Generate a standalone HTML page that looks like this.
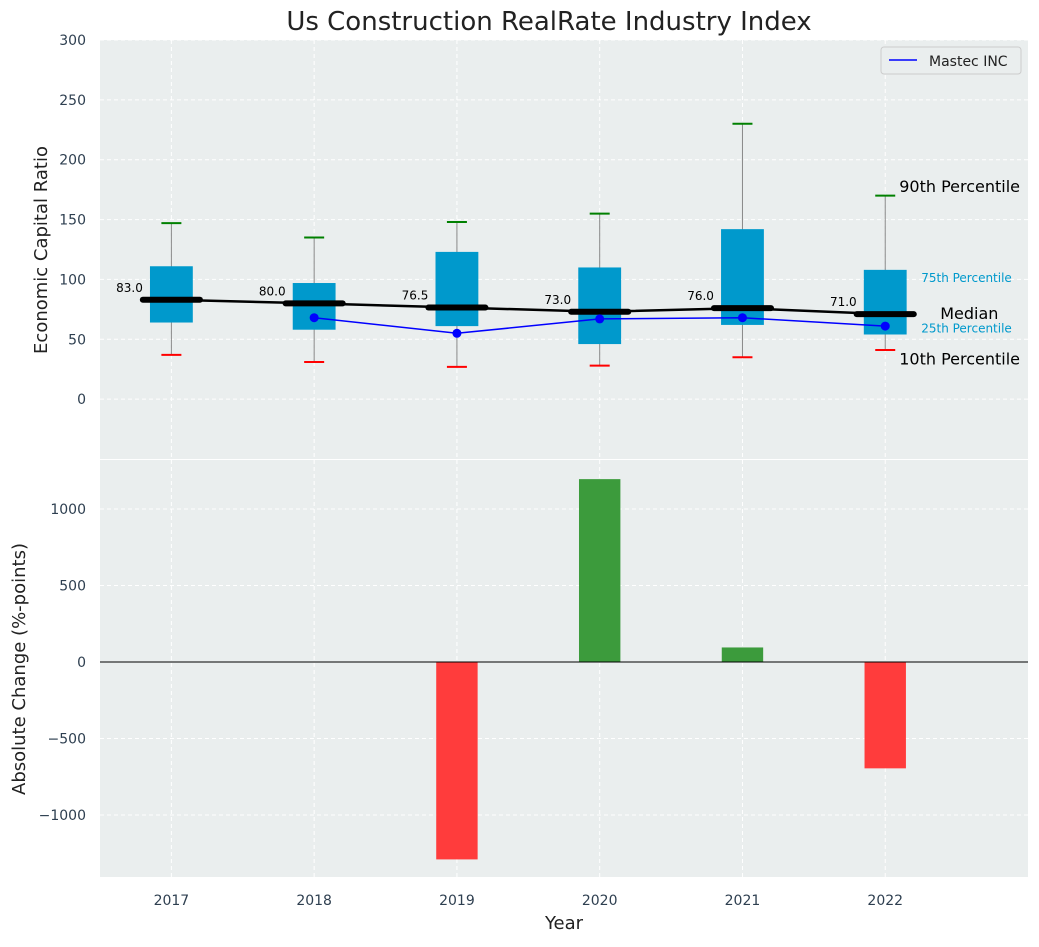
<!DOCTYPE html>
<html><head><meta charset="utf-8"><style>
body{margin:0;background:#fff;font-family:"Liberation Sans","DejaVu Sans",sans-serif}
svg text{font-family:"DejaVu Sans","Liberation Sans",sans-serif}
</style></head><body>
<svg id="c" width="1039" height="942" xmlns="http://www.w3.org/2000/svg"></svg>
<script>
const years=[2017,2018,2019,2020,2021,2022];
const p10=[37,31,27,28,35,41];
const q1=[64,58,61,46,62,54];
const medians=[83.0,80.0,76.5,73.0,76.0,71.0];
const q3=[111,97,123,110,142,108];
const p90=[147,135,148,155,230,170];
const mastecYears=[2018,2019,2020,2021,2022];
const mastec=[68,55,67,68,61];
const changeYears=[2017,2018,2019,2020,2021,2022];
const changes=[0,0,-1290,1195,95,-695];
const yTicksTop=[0,50,100,150,200,250,300];
const yTicksBot=[-1000,-500,0,500,1000];

const svg=document.getElementById('c');
const NS='http://www.w3.org/2000/svg';
function el(t,a,txt){const e=document.createElementNS(NS,t);for(const k in a)e.setAttribute(k,a[k]);if(txt!==undefined)e.textContent=txt;svg.appendChild(e);return e;}
const X0=100,X1=1028;
const x=v=>X0+(v-2016.5)/(2023-2016.5)*(X1-X0);
const yT=v=>40+(300-v)/350*(459-40);
const yB=v=>460+(1320-v)/(1320+1405)*(877-460);
const ux=x(2018)-x(2017);

let e=el('rect',{x:X0,y:40,width:X1-X0,height:419,fill:'#eaeeee'});

e=el('rect',{x:X0,y:460,width:X1-X0,height:417,fill:'#eaeeee'});


years.forEach(v=>{el('line',{x1:x(v),x2:x(v),y1:40,y2:459,stroke:'#fff','stroke-dasharray':'4,3'});el('line',{x1:x(v),x2:x(v),y1:460,y2:877,stroke:'#fff','stroke-dasharray':'4,3'});});
yTicksTop.forEach(v=>{el('line',{x1:X0,x2:X1,y1:yT(v),y2:yT(v),stroke:'#fff','stroke-dasharray':'4,3'});
 e=el('text',{x:86,y:yT(v)+5,'text-anchor':'end','font-size':14,fill:'#2e3f50'},v);
 });
yTicksBot.forEach(v=>{el('line',{x1:X0,x2:X1,y1:yB(v),y2:yB(v),stroke:'#fff','stroke-dasharray':'4,3'});
 e=el('text',{x:86,y:yB(v)+5,'text-anchor':'end','font-size':14,fill:'#2e3f50'},v<0?'\u2212'+(-v):v);
 });

years.forEach((yr,i)=>{
 const cx=x(yr);
 el('line',{x1:cx,x2:cx,y1:yT(p10[i]),y2:yT(p90[i]),stroke:'#888','stroke-width':1});
 e=el('rect',{x:cx-0.15*ux,y:yT(q3[i]),width:0.3*ux,height:yT(q1[i])-yT(q3[i]),fill:'#0099cc'});
 
 el('line',{x1:cx-10,x2:cx+10,y1:yT(p90[i]),y2:yT(p90[i]),stroke:'green','stroke-width':2});
 el('line',{x1:cx-10,x2:cx+10,y1:yT(p10[i]),y2:yT(p10[i]),stroke:'red','stroke-width':2});
 el('line',{x1:cx-0.2*ux,x2:cx+0.2*ux,y1:yT(medians[i]),y2:yT(medians[i]),stroke:'#000','stroke-width':6,'stroke-linecap':'round'});
 e=el('text',{x:cx-0.2*ux,y:yT(medians[i])-8,'text-anchor':'end','font-size':12,fill:'#000'},medians[i].toFixed(1));
 
});
e=el('polyline',{points:years.map((yr,i)=>x(yr)+','+yT(medians[i])).join(' '),fill:'none',stroke:'#000','stroke-width':2.5});

e=el('polyline',{points:mastecYears.map((yr,i)=>x(yr)+','+yT(mastec[i])).join(' '),fill:'none',stroke:'blue','stroke-width':1.5});

mastecYears.forEach((yr,i)=>{e=el('circle',{cx:x(yr),cy:yT(mastec[i]),r:4.5,fill:'blue'});});

const last=years.length-1,lx=x(years[last]);
[['90th Percentile',p90[last]+7,14,16,'#000'],['75th Percentile',q3[last]-6,36,12,'#0099cc'],['Median',medians[last],55,16,'#000'],['25th Percentile',q1[last]+6,36,12,'#0099cc'],['10th Percentile',p10[last]-8,14,16,'#000']].forEach(a=>{
 e=el('text',{x:lx+a[2],y:yT(a[1])+5,'font-size':a[3],fill:a[4]},a[0]);
 });

e=el('rect',{x:881,y:47,width:140,height:27,fill:'#eaeeee',stroke:'#ccc',rx:3});

el('line',{x1:889,x2:917,y1:60,y2:60,stroke:'blue','stroke-width':1.5});
e=el('text',{x:929,y:66,'font-size':14,fill:'#222'},'Mastec INC');


changeYears.forEach((yr,i)=>{const v=changes[i];if(!v)return;
 e=el('rect',{x:x(yr)-0.145*ux,y:Math.min(yB(v),yB(0)),width:0.29*ux,height:Math.abs(yB(v)-yB(0)),fill:v>0?'#3c9b3c':'#ff3c3c'});
 });
el('line',{x1:X0,x2:X1,y1:yB(0),y2:yB(0),stroke:'#000','stroke-width':1});

years.forEach(v=>{e=el('text',{x:x(v),y:905,'text-anchor':'middle','font-size':14,fill:'#2e3f50'},v);});

e=el('text',{x:549,y:30,'text-anchor':'middle','font-size':26,fill:'#222'},'Us Construction RealRate Industry Index');

e=el('text',{x:564,y:929,'text-anchor':'middle','font-size':18,fill:'#222'},'Year');

e=el('text',{x:47,y:250,'text-anchor':'middle','font-size':18,fill:'#222',transform:'rotate(-90 47 250)'},'Economic Capital Ratio');

e=el('text',{x:25,y:669,'text-anchor':'middle','font-size':18,fill:'#222',transform:'rotate(-90 25 669)'},'Absolute Change (%-points)');

</script></body></html>
